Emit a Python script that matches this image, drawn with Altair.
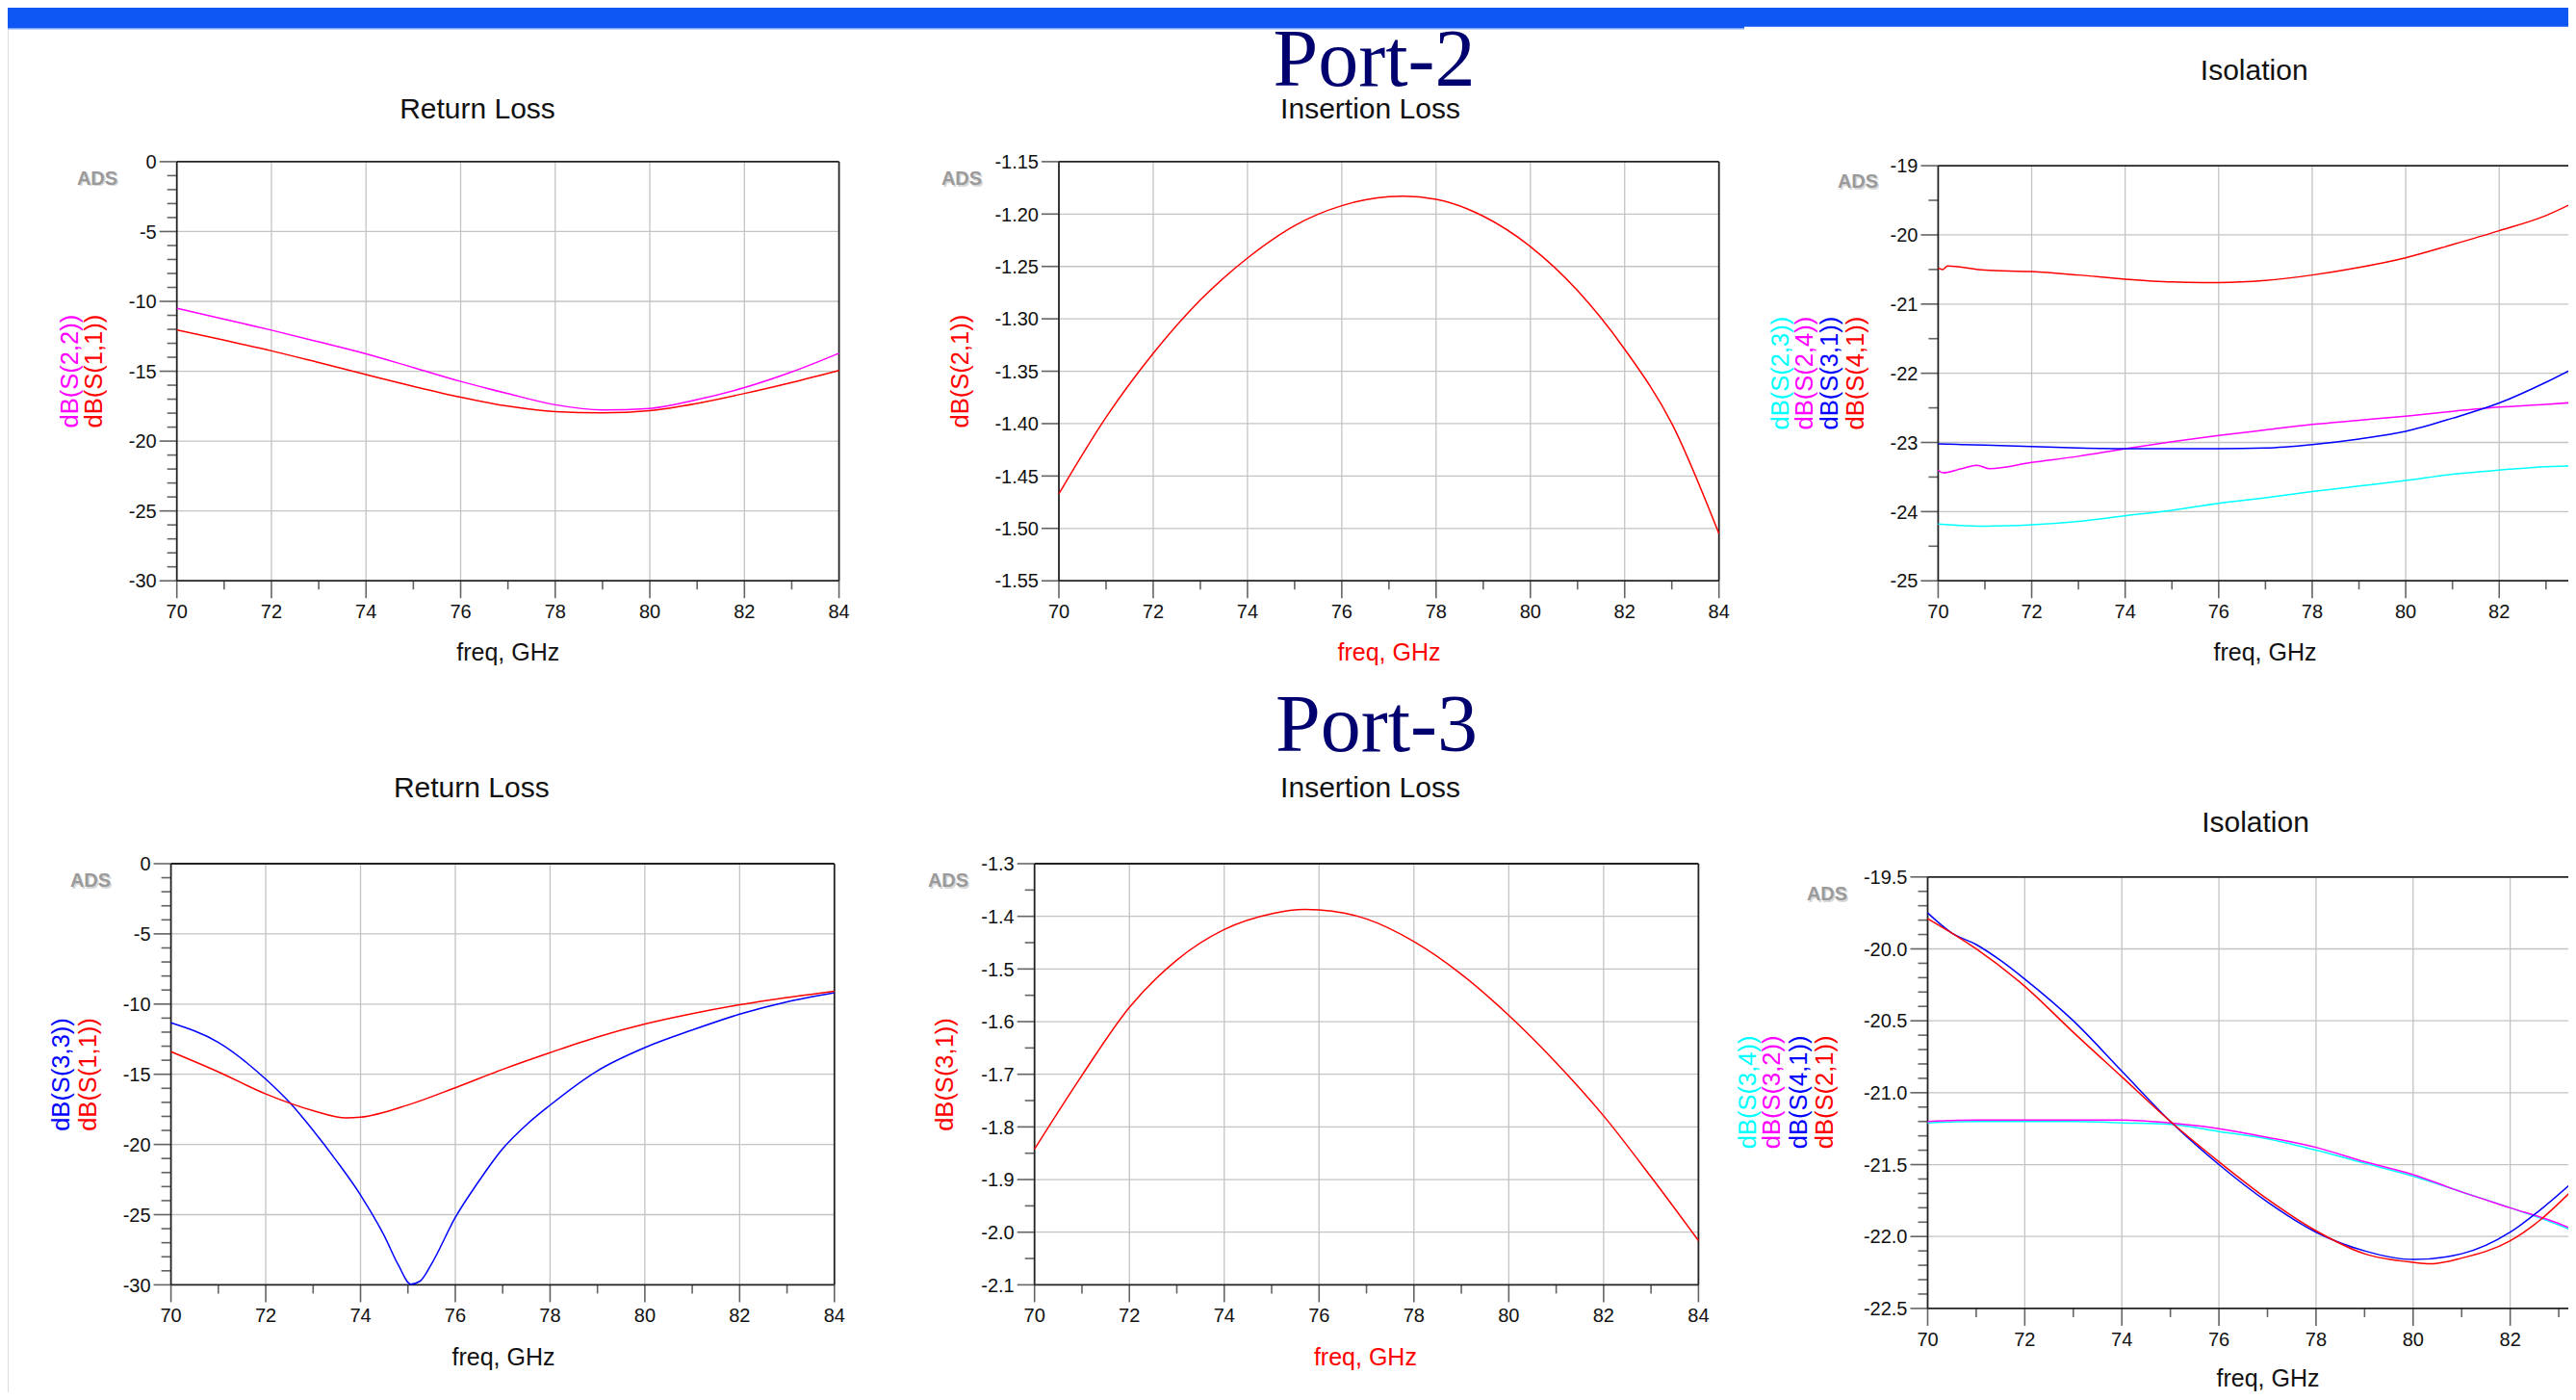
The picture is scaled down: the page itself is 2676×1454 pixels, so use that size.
import altair as alt
import pandas as pd

W, H = 2660, 1438
SANS = "Liberation Sans"
SERIF = "Liberation Serif"
RED, BLUE, MAG, CYAN = "#FF0000", "#0000FF", "#FF00FF", "#00FFFF"
GRID = "#c4c4c4"
AX = "#222222"
LAB = "#111111"
NAVY = "#00006E"
BAR = "#0F57F5"

# ---------------- Port-2 : Return Loss ----------------
p2rl_freq = [70, 71, 72, 73, 74, 75, 76, 77, 78, 79, 80, 81, 82, 83, 84]
p2rl_s22 = [-10.5, -11.27, -12.06, -12.9, -13.76, -14.74, -15.73, -16.6, -17.4, -17.77, -17.66, -17.03, -16.17, -15.05, -13.71]
p2rl_s11 = [-12.04, -12.78, -13.54, -14.38, -15.24, -16.08, -16.86, -17.5, -17.89, -17.98, -17.82, -17.3, -16.59, -15.8, -14.94]

# ---------------- Port-2 : Insertion Loss ----------------
p2il_freq = [70, 71, 72, 73, 74, 75, 76, 77, 77.3, 78, 79, 80, 81, 82, 83, 84]
p2il_s21 = [-1.467, -1.394, -1.333, -1.282, -1.242, -1.211, -1.192, -1.1835, -1.183, -1.186, -1.202, -1.231, -1.273, -1.329, -1.400, -1.505]

# ---------------- Port-2 : Isolation ----------------
p2iso_s23_freq = [70, 71, 72, 73, 74, 75, 76, 77, 78, 79, 80, 81, 82, 83, 83.64]
p2iso_s23 = [-24.18, -24.21, -24.19, -24.14, -24.06, -23.98, -23.88, -23.80, -23.71, -23.63, -23.55, -23.46, -23.40, -23.35, -23.34]
p2iso_s24_freq = [70, 70.1, 70.5, 70.83, 71.1, 72, 73, 74, 75, 76, 77, 78, 79, 80, 81, 82, 83, 83.64]
p2iso_s24 = [-23.40, -23.44, -23.38, -23.33, -23.38, -23.29, -23.20, -23.09, -22.99, -22.90, -22.82, -22.74, -22.68, -22.62, -22.55, -22.49, -22.45, -22.42]
p2iso_s31_freq = [70, 71, 72, 73, 74, 75, 76, 77, 78, 79, 80, 81, 82, 83, 83.64]
p2iso_s31 = [-23.02, -23.04, -23.06, -23.08, -23.09, -23.09, -23.09, -23.08, -23.03, -22.95, -22.84, -22.65, -22.43, -22.13, -21.91]
p2iso_s41_freq = [70, 70.1, 70.2, 71, 72, 73, 74, 75, 76, 77, 78, 79, 80, 81, 82, 83, 83.64]
p2iso_s41 = [-20.48, -20.50, -20.45, -20.51, -20.53, -20.58, -20.64, -20.68, -20.69, -20.66, -20.58, -20.47, -20.33, -20.14, -19.94, -19.72, -19.52]

# ---------------- Port-3 : Return Loss ----------------
p3rl_s33_freq = [70, 71, 72, 72.5, 73, 73.5, 74, 74.5, 74.8, 75.06, 75.25, 75.5, 76, 76.5, 77, 77.5, 78, 79, 80, 81, 82, 83, 84]
p3rl_s33 = [-11.34, -12.73, -15.35, -17.0, -19.0, -21.2, -23.6, -26.5, -28.6, -29.95, -29.75, -28.5, -25.2, -22.6, -20.3, -18.6, -17.2, -14.75, -13.1, -11.85, -10.72, -9.84, -9.19]
p3rl_s11_freq = [70, 71, 72, 73, 73.7, 74, 75, 76, 77, 78, 79, 80, 81, 82, 83, 84]
p3rl_s11 = [-13.39, -14.83, -16.40, -17.59, -18.11, -18.06, -17.19, -15.96, -14.65, -13.46, -12.34, -11.42, -10.68, -10.05, -9.53, -9.08]

# ---------------- Port-3 : Insertion Loss ----------------
p3il_freq = [70, 71, 72, 73, 74, 75, 75.7, 76, 77, 78, 79, 80, 81, 82, 83, 84]
p3il_s31 = [-1.842, -1.702, -1.573, -1.483, -1.425, -1.395, -1.387, -1.388, -1.405, -1.448, -1.510, -1.588, -1.678, -1.779, -1.895, -2.016]

# ---------------- Port-3 : Isolation ----------------
p3iso_s34_freq = [70, 71, 72, 73, 74, 75, 76, 77, 78, 79, 80, 81, 82, 83, 83.36]
p3iso_s34 = [-21.21, -21.20, -21.20, -21.20, -21.21, -21.22, -21.27, -21.32, -21.40, -21.49, -21.58, -21.69, -21.80, -21.92, -21.97]
p3iso_s32_freq = [70, 71, 72, 73, 74, 75, 76, 77, 78, 79, 80, 81, 82, 83, 83.36]
p3iso_s32 = [-21.20, -21.19, -21.19, -21.19, -21.19, -21.21, -21.25, -21.31, -21.38, -21.48, -21.57, -21.69, -21.80, -21.91, -21.96]
p3iso_s41_freq = [70, 70.5, 71, 71.5, 72, 73, 74, 75, 76, 77, 78, 79, 80, 81, 82, 82.6, 83.36]
p3iso_s41 = [-19.75, -19.89, -19.97, -20.08, -20.21, -20.50, -20.85, -21.20, -21.50, -21.76, -21.97, -22.10, -22.16, -22.12, -21.97, -21.82, -21.60]
p3iso_s21_freq = [70, 71, 72, 73, 74, 75, 76, 77, 78, 79, 80, 80.35, 81, 82, 82.6, 83.36]
p3iso_s21 = [-19.79, -20.0, -20.26, -20.58, -20.89, -21.20, -21.48, -21.74, -21.96, -22.12, -22.18, -22.19, -22.15, -22.03, -21.89, -21.65]

# axis tick values and tick labels
freq_major = [70, 72, 74, 76, 78, 80, 82, 84]
freq_minor = [71, 73, 75, 77, 79, 81, 83]
rl_major = [-30, -25, -20, -15, -10, -5, 0]
rl_labels = ["-30", "-25", "-20", "-15", "-10", "-5", "0"]
rl_minor = [v for v in range(-29, 0) if v % 5 != 0]
p2il_major = [-1.55, -1.5, -1.45, -1.4, -1.35, -1.3, -1.25, -1.2, -1.15]
p2il_labels = ["-1.55", "-1.50", "-1.45", "-1.40", "-1.35", "-1.30", "-1.25", "-1.20", "-1.15"]
p2iso_major = [-25, -24, -23, -22, -21, -20, -19]
p2iso_labels = ["-25", "-24", "-23", "-22", "-21", "-20", "-19"]
p2iso_minor = [-24.5, -23.5, -22.5, -21.5, -20.5, -19.5]
p3il_major = [-2.1, -2.0, -1.9, -1.8, -1.7, -1.6, -1.5, -1.4, -1.3]
p3il_labels = ["-2.1", "-2.0", "-1.9", "-1.8", "-1.7", "-1.6", "-1.5", "-1.4", "-1.3"]
p3il_minor = [-2.05, -1.95, -1.85, -1.75, -1.65, -1.55, -1.45, -1.35]
p3iso_major = [-22.5, -22.0, -21.5, -21.0, -20.5, -20.0, -19.5]
p3iso_labels = ["-22.5", "-22.0", "-21.5", "-21.0", "-20.5", "-20.0", "-19.5"]
p3iso_minor = [-22.4, -22.3, -22.2, -22.1, -21.9, -21.8, -21.7, -21.6, -21.4, -21.3, -21.2, -21.1,
               -20.9, -20.8, -20.7, -20.6, -20.4, -20.3, -20.2, -20.1, -19.9, -19.8, -19.7, -19.6]


def one():
    return pd.DataFrame({"k": [0]})


def panel(xdom, xrng, ydom, yrng, ymaj, ylab, ymin, right, series):
    xs = alt.Scale(domain=xdom, range=xrng, nice=False, zero=False)
    ys = alt.Scale(domain=ydom, range=yrng, nice=False, zero=False)
    xmaj = [v for v in freq_major if v <= xdom[1]]
    xmin = [v for v in freq_minor if v <= xdom[1]]
    X0 = alt.XDatum(xdom[0], axis=None)
    Y0 = alt.YDatum(ydom[0], axis=None)
    lay = []
    # grid
    hg = [v for v in ymaj if ydom[0] < v < ydom[1]]
    lay.append(alt.Chart(pd.DataFrame({"v": hg})).mark_rule(color=GRID, strokeWidth=1.3).encode(
        x=X0, x2=alt.datum(xdom[1]), y=alt.Y("v:Q", scale=ys, axis=None)))
    vg = [v for v in xmaj if xdom[0] < v < 84]
    lay.append(alt.Chart(pd.DataFrame({"v": vg})).mark_rule(color=GRID, strokeWidth=1.3).encode(
        x=alt.X("v:Q", scale=xs, axis=None), y=Y0, y2=alt.datum(ydom[1])))
    # frame: top / right / left / bottom
    lay.append(alt.Chart(one()).mark_rule(color=AX, strokeWidth=1.8).encode(
        x=X0, x2=alt.datum(xdom[1]), y=alt.YDatum(ydom[1], axis=None)))
    if right:
        lay.append(alt.Chart(one()).mark_rule(color=AX, strokeWidth=1.8).encode(
            x=alt.XDatum(xdom[1], axis=None), y=Y0, y2=alt.datum(ydom[1])))
    lay.append(alt.Chart(one()).mark_rule(color=AX, strokeWidth=1.8).encode(
        x=X0, y=Y0, y2=alt.datum(ydom[1])))
    lay.append(alt.Chart(one()).mark_rule(color=AX, strokeWidth=1.8).encode(
        x=X0, x2=alt.datum(xdom[1]), y=Y0))
    # x ticks
    lay.append(alt.Chart(pd.DataFrame({"v": xmin})).mark_tick(
        orient="vertical", size=9, thickness=1.6, color=AX, yOffset=4.5).encode(
        x=alt.X("v:Q", axis=None), y=Y0))
    lay.append(alt.Chart(pd.DataFrame({"v": xmaj})).mark_tick(
        orient="vertical", size=18, thickness=1.6, color=AX, yOffset=9).encode(
        x=alt.X("v:Q", axis=None), y=Y0))
    # y ticks
    if ymin:
        lay.append(alt.Chart(pd.DataFrame({"v": ymin})).mark_tick(
            orient="horizontal", size=10, thickness=1.6, color=AX, xOffset=-5).encode(
            y=alt.Y("v:Q", axis=None), x=X0))
    lay.append(alt.Chart(pd.DataFrame({"v": ymaj})).mark_tick(
        orient="horizontal", size=18, thickness=1.6, color=AX, xOffset=-9).encode(
        y=alt.Y("v:Q", axis=None), x=X0))
    # tick labels
    lay.append(alt.Chart(pd.DataFrame({"v": xmaj, "lab": [str(v) for v in xmaj]})).mark_text(
        font=SANS, fontSize=20, color=LAB, align="center", baseline="alphabetic", dy=39).encode(
        x=alt.X("v:Q", axis=None), y=Y0, text="lab:N"))
    lay.append(alt.Chart(pd.DataFrame({"v": ymaj, "lab": ylab})).mark_text(
        font=SANS, fontSize=20, color=LAB, align="right", baseline="alphabetic", dx=-21, dy=7.2).encode(
        y=alt.Y("v:Q", axis=None), x=X0, text="lab:N"))
    # data series
    for freq, vals, col in series:
        df = pd.DataFrame({"f": freq, "v": vals})
        lay.append(alt.Chart(df).mark_line(color=col, strokeWidth=1.5, interpolate="monotone", clip=True).encode(
            x=alt.X("f:Q", axis=None), y=alt.Y("v:Q", axis=None)))
    return alt.layer(*lay)


def txt(s, x, y, size, color, font=SANS, angle=0, baseline="alphabetic", align="center", weight="normal"):
    return alt.Chart(pd.DataFrame({"t": [s]})).mark_text(
        fontSize=size, color=color, font=font, angle=angle, baseline=baseline, align=align, fontWeight=weight
    ).encode(text="t:N", x=alt.value(x), y=alt.value(y))


layers = []
# top banner
layers.append(alt.Chart(one()).mark_rect(color=BAR).encode(
    x=alt.value(0), x2=alt.value(1804), y=alt.value(0), y2=alt.value(21)))
layers.append(alt.Chart(one()).mark_rect(color=BAR).encode(
    x=alt.value(1804), x2=alt.value(W), y=alt.value(0), y2=alt.value(19.7)))
layers.append(alt.Chart(one()).mark_rect(color="#7fa3f7").encode(
    x=alt.value(0), x2=alt.value(1804), y=alt.value(21), y2=alt.value(22.5)))

# panels (the two isolation plots run off the right edge of the slide)
iso2_end = 70 + (W - 2005.4) / 48.57
iso3_end = 70 + (W - 1994.5) / 50.43
layers.append(panel([70, 84], [175.7, 863.6], [-30, 0], [595.2, 159.9], rl_major, rl_labels, rl_minor, True,
                    [(p2rl_freq, p2rl_s22, MAG), (p2rl_freq, p2rl_s11, RED)]))
layers.append(panel([70, 84], [1092, 1777.7], [-1.55, -1.15], [595.2, 159.9], p2il_major, p2il_labels, [], True,
                    [(p2il_freq, p2il_s21, RED)]))
layers.append(panel([70, iso2_end], [2005.4, W], [-25, -19], [595.2, 164.1], p2iso_major, p2iso_labels, p2iso_minor, False,
                    [(p2iso_s23_freq, p2iso_s23, CYAN), (p2iso_s24_freq, p2iso_s24, MAG),
                     (p2iso_s31_freq, p2iso_s31, BLUE), (p2iso_s41_freq, p2iso_s41, RED)]))
layers.append(panel([70, 84], [169.6, 858.8], [-30, 0], [1326.4, 889], rl_major, rl_labels, rl_minor, True,
                    [(p3rl_s33_freq, p3rl_s33, BLUE), (p3rl_s11_freq, p3rl_s11, RED)]))
layers.append(panel([70, 84], [1066.7, 1756.4], [-2.1, -1.3], [1326.4, 889], p3il_major, p3il_labels, p3il_minor, True,
                    [(p3il_freq, p3il_s31, RED)]))
layers.append(panel([70, iso3_end], [1994.5, W], [-22.5, -19.5], [1350.9, 902.8], p3iso_major, p3iso_labels, p3iso_minor, False,
                    [(p3iso_s34_freq, p3iso_s34, CYAN), (p3iso_s32_freq, p3iso_s32, MAG),
                     (p3iso_s41_freq, p3iso_s41, BLUE), (p3iso_s21_freq, p3iso_s21, RED)]))

# big headings
layers.append(txt("Port-2", 1419.5, 81, 84, NAVY, font=SERIF))
layers.append(txt("Port-3", 1422, 772, 84, NAVY, font=SERIF))

# panel titles
for s, x, y in [("Return Loss", 488, 114.7), ("Insertion Loss", 1415.5, 114.7), ("Isolation", 2333.7, 74.7),
                ("Return Loss", 481.8, 819.6), ("Insertion Loss", 1415.5, 819.6), ("Isolation", 2335, 856)]:
    layers.append(txt(s, x, y, 30, LAB))

# x-axis titles
for x, y, c in [(519.7, 678, LAB), (1435, 678, RED), (2345, 678, LAB),
                (515, 1410, LAB), (1410.4, 1410, RED), (2348, 1432, LAB)]:
    layers.append(txt("freq, GHz", x, y, 25, c))

# y-axis titles (rotated)
ytitles = [
    ("dB(S(2,2))", 65, 377.6, MAG), ("dB(S(1,1))", 89.6, 377.6, RED),
    ("dB(S(2,1))", 989.5, 377.6, RED),
    ("dB(S(2,3))", 1842, 379.6, CYAN), ("dB(S(2,4))", 1867, 379.6, MAG),
    ("dB(S(3,1))", 1893, 379.6, BLUE), ("dB(S(4,1))", 1920, 379.6, RED),
    ("dB(S(3,3))", 56, 1108, BLUE), ("dB(S(1,1))", 83.5, 1108, RED),
    ("dB(S(3,1))", 974, 1108, RED),
    ("dB(S(3,4))", 1807.6, 1126.4, CYAN), ("dB(S(3,2))", 1833.2, 1126.4, MAG),
    ("dB(S(4,1))", 1860.5, 1126.4, BLUE), ("dB(S(2,1))", 1887.5, 1126.4, RED),
]
for s, x, y, c in ytitles:
    layers.append(txt(s, x, y, 25.5, c, angle=270, baseline="middle"))

# ADS watermarks
for x, y in [(93, 177.5), (991, 178), (1922, 181), (86, 907), (977, 907), (1890, 921)]:
    layers.append(txt("ADS", x + 1.5, y + 1.5, 20, "#d8d8d8", baseline="middle", weight="bold"))
    layers.append(txt("ADS", x, y, 20, "#9a9a9a", baseline="middle", weight="bold"))

chart = alt.layer(*layers).resolve_scale(
    x="independent", y="independent"
).properties(
    width=W, height=H, autosize=alt.AutoSizeParams(type="none"), padding=0, background="transparent"
).configure_view(stroke="transparent", strokeWidth=0).configure(font=SANS)

chart.save("out.html", embed_options={"renderer": "svg", "actions": False})
